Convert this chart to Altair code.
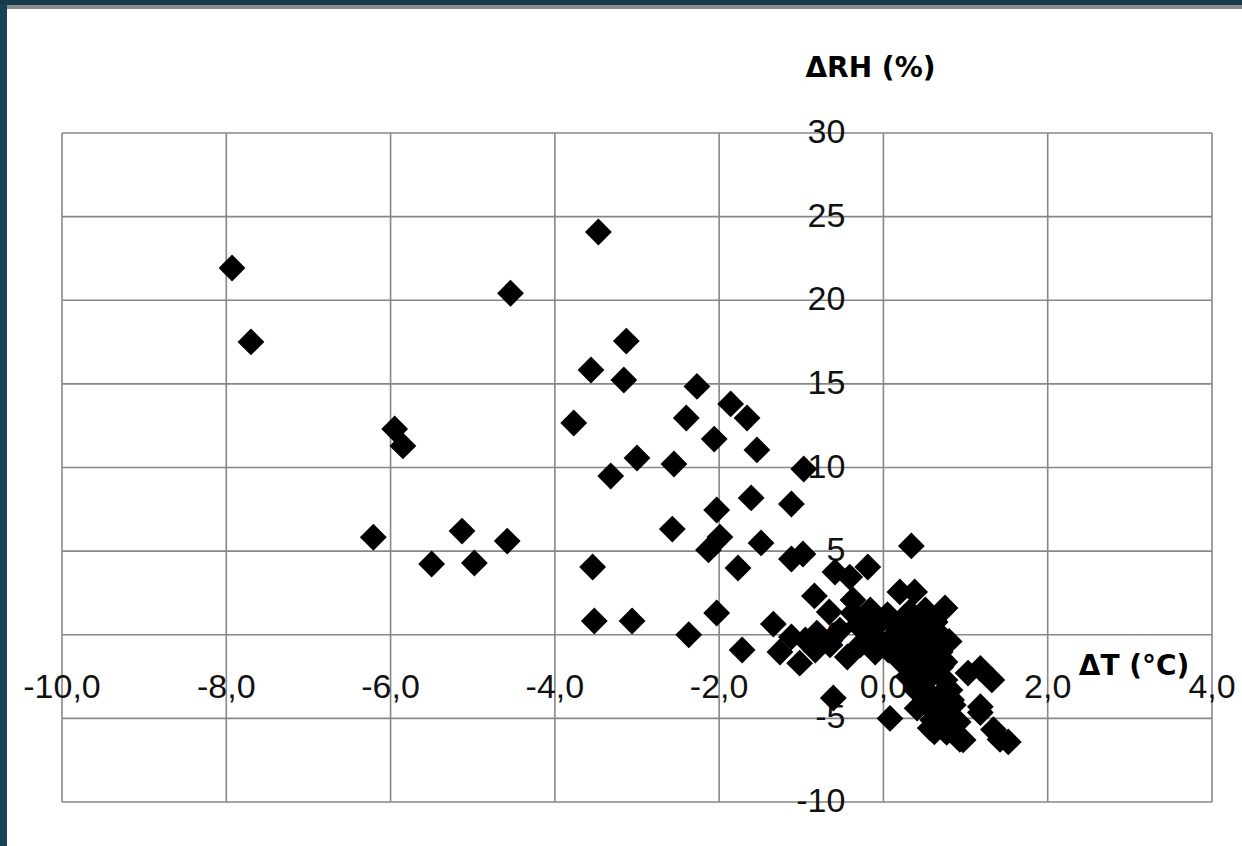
import altair as alt
import pandas as pd

# Scatter values (ΔT in °C, ΔRH in %)
dT = [
    -7.93, -7.70, -4.54, -3.47, -5.95, -5.85, -6.21, -5.50, -5.13, -4.98,
    -4.58, -3.77, -3.56, -3.13, -3.16, -3.54, -3.52, -3.06, -2.27, -1.86,
    -1.66, -2.40, -2.06, -1.54, -3.00, -2.55, -3.32, -0.97, -2.03, -1.61,
    -1.12, -2.57, -1.99, -2.13, -1.49, -1.77, -1.12, -0.98, 0.34, -0.59,
    -0.41, -0.19, -0.84, -0.37, -0.66, -2.03, -2.37, -1.72, -1.34, -1.12,
    -1.26, -1.02, -0.61, 0.08, 0.20, 0.38, 0.75, 1.18, 1.32, 1.03,
    1.52, 1.34, 1.18, 0.77, 0.93, 0.41, 0.60,
    -0.31, -0.16, -0.04, 0.14, 0.32, 0.51, 0.69, -0.22, -0.07, 0.10,
    0.26, 0.44, 0.63, 0.69, -0.10, 0.06, 0.20, 0.39, 0.57, 0.75,
    0.20, 0.32, 0.42, 0.59, 0.75, 0.42, 0.40, 0.51, 0.69, 0.83,
    0.52, 0.57, 0.63, 0.79, 0.91, 0.66, 0.69, 0.51, 0.32, 0.63,
    0.70, 0.81, 1.18, 1.42, 0.57, 0.97, -0.37, -0.81, -0.44, -0.65,
    -0.53, -0.28, -0.83, -0.95, -0.16, -0.20,
    0.05, 0.25, 0.45, 0.30, 0.50, 0.60, 0.80, 0.85, 0.62, 0.48,
]
dRH = [
    21.93, 17.51, 20.42, 24.08, 12.30, 11.29, 5.83, 4.23, 6.20, 4.29,
    5.60, 12.66, 15.83, 17.56, 15.23, 4.05, 0.82, 0.82, 14.85, 13.80,
    12.96, 12.96, 11.70, 11.05, 10.57, 10.21, 9.49, 9.91, 7.46, 8.18,
    7.82, 6.32, 5.84, 5.07, 5.49, 3.99, 4.53, 4.83, 5.31, 3.75,
    3.45, 4.05, 2.32, 2.08, 1.36, 1.30, 0.00, -0.91, 0.64, -0.13,
    -1.03, -1.70, -3.78, -5.00, 2.56, 2.56, 1.60, -2.02, -2.70, -2.29,
    -6.41, -5.67, -4.30, -5.84, -6.26, -4.39, -5.10,
    0.58, 0.28, 0.76, 0.58, 0.40, 0.28, -0.01, -0.43, -0.31, -0.19,
    -0.31, -0.49, -0.79, -1.03, -1.03, -0.91, -1.03, -1.21, -1.51, -1.63,
    -1.51, -1.99, -2.11, -2.41, -2.71, -2.83, -3.31, -3.31, -3.61, -3.90,
    -3.90, -4.38, -4.38, -4.80, -5.22, -4.98, -5.22, 1.48, 1.36, 0.76,
    -1.93, -3.31, -4.65, -6.26, -5.58, -6.29, 1.30, 0.10, -1.33, -0.61,
    0.28, -0.61, -0.91, -0.31, 1.48, 1.00,
    1.20, 1.00, 0.95, -2.50, -2.60, -0.10, -0.40, -4.20, -5.80, -1.80,
]

x_ticks = [-10, -8, -6, -4, -2, 0, 2, 4]
y_ticks = [-10, -5, 0, 5, 10, 15, 20, 25, 30]
x_title = "ΔT (°C)"
y_title = "ΔRH (%)"

W, H = 1150, 669
GRID = "#878787"
LABEL_FONT = "Liberation Sans"
TITLE_FONT = "DejaVu Sans"

xscale = alt.Scale(domain=[-10, 4], nice=False, zero=False)
yscale = alt.Scale(domain=[-10, 30], nice=False, zero=False)

pts = pd.DataFrame({"dT": dT, "dRH": dRH})
xt = pd.DataFrame({"t": x_ticks})
yt = pd.DataFrame({"t": y_ticks})
one = pd.DataFrame({"a": [0]})

vgrid = alt.Chart(xt).mark_rule(color=GRID, strokeWidth=1.6).encode(
    x=alt.X("t:Q", scale=xscale, axis=None)
)
hgrid = alt.Chart(yt).mark_rule(color=GRID, strokeWidth=1.6).encode(
    y=alt.Y("t:Q", scale=yscale, axis=None)
)

# tick labels placed along the zero lines (Excel "axis crosses at 0")
xlabels = alt.Chart(xt).transform_calculate(
    lab="(datum.t < 0 ? '-' : '') + replace(format(abs(datum.t), '.1f'), '.', ',')",
    cross="0",
).mark_text(
    font=LABEL_FONT, fontSize=34, color="#111111", align="center", baseline="top", dy=36
).encode(
    x=alt.X("t:Q", scale=xscale, axis=None),
    y=alt.Y("cross:Q", scale=yscale, axis=None),
    text="lab:N",
)
ylabels = alt.Chart(yt).transform_calculate(
    lab="(datum.t < 0 ? '-' : '') + format(abs(datum.t), 'd')",
    cross="0",
).mark_text(
    font=LABEL_FONT, fontSize=34, color="#111111", align="right", baseline="middle", dx=-38
).encode(
    x=alt.X("cross:Q", scale=xscale, axis=None),
    y=alt.Y("t:Q", scale=yscale, axis=None),
    text="lab:N",
)

ytitle = alt.Chart(one).transform_calculate(
    ax="0", ay="30", lab="'" + y_title + "'"
).mark_text(
    font=TITLE_FONT, fontSize=28, fontWeight="bold", color="#000000",
    align="left", baseline="alphabetic", dx=-78, dy=-56,
).encode(
    x=alt.X("ax:Q", scale=xscale, axis=None),
    y=alt.Y("ay:Q", scale=yscale, axis=None),
    text="lab:N",
)

xtitle = alt.Chart(one).transform_calculate(
    ax="2", ay="0", lab="'" + x_title + "'"
).mark_text(
    font=TITLE_FONT, fontSize=28, fontWeight="bold", color="#000000",
    align="left", baseline="alphabetic", dx=31, dy=40,
).encode(
    x=alt.X("ax:Q", scale=xscale, axis=None),
    y=alt.Y("ay:Q", scale=yscale, axis=None),
    text="lab:N",
)

scatter = alt.Chart(pts).mark_point(
    shape="diamond", filled=True, size=720, color="#000000", opacity=1, strokeWidth=0
).encode(
    x=alt.X("dT:Q", scale=xscale, axis=None),
    y=alt.Y("dRH:Q", scale=yscale, axis=None),
)

# slide frame decorations (dark left and top strips)
left_strip = alt.Chart(one).mark_rect(color="#1a4255", clip=False).encode(
    x=alt.value(-62), x2=alt.value(-55), y=alt.value(-133), y2=alt.value(H + 44)
)
top_dark = alt.Chart(one).mark_rect(color="#153a4b", clip=False).encode(
    x=alt.value(-62), x2=alt.value(W + 30), y=alt.value(-133), y2=alt.value(-128)
)
top_gray = alt.Chart(one).mark_rect(color="#898989", clip=False).encode(
    x=alt.value(-55), x2=alt.value(W + 30), y=alt.value(-128), y2=alt.value(-124)
)

chart = alt.layer(
    vgrid, hgrid, xlabels, ylabels, ytitle, xtitle, scatter,
    left_strip, top_dark, top_gray,
).properties(
    width=W, height=H,
    autosize=alt.AutoSizeParams(type="none"),
    padding={"left": 62, "top": 133, "right": 30, "bottom": 44},
    background="#ffffff",
).configure_view(stroke=None)

chart.save("out.html", embed_options={"renderer": "svg", "actions": False})
